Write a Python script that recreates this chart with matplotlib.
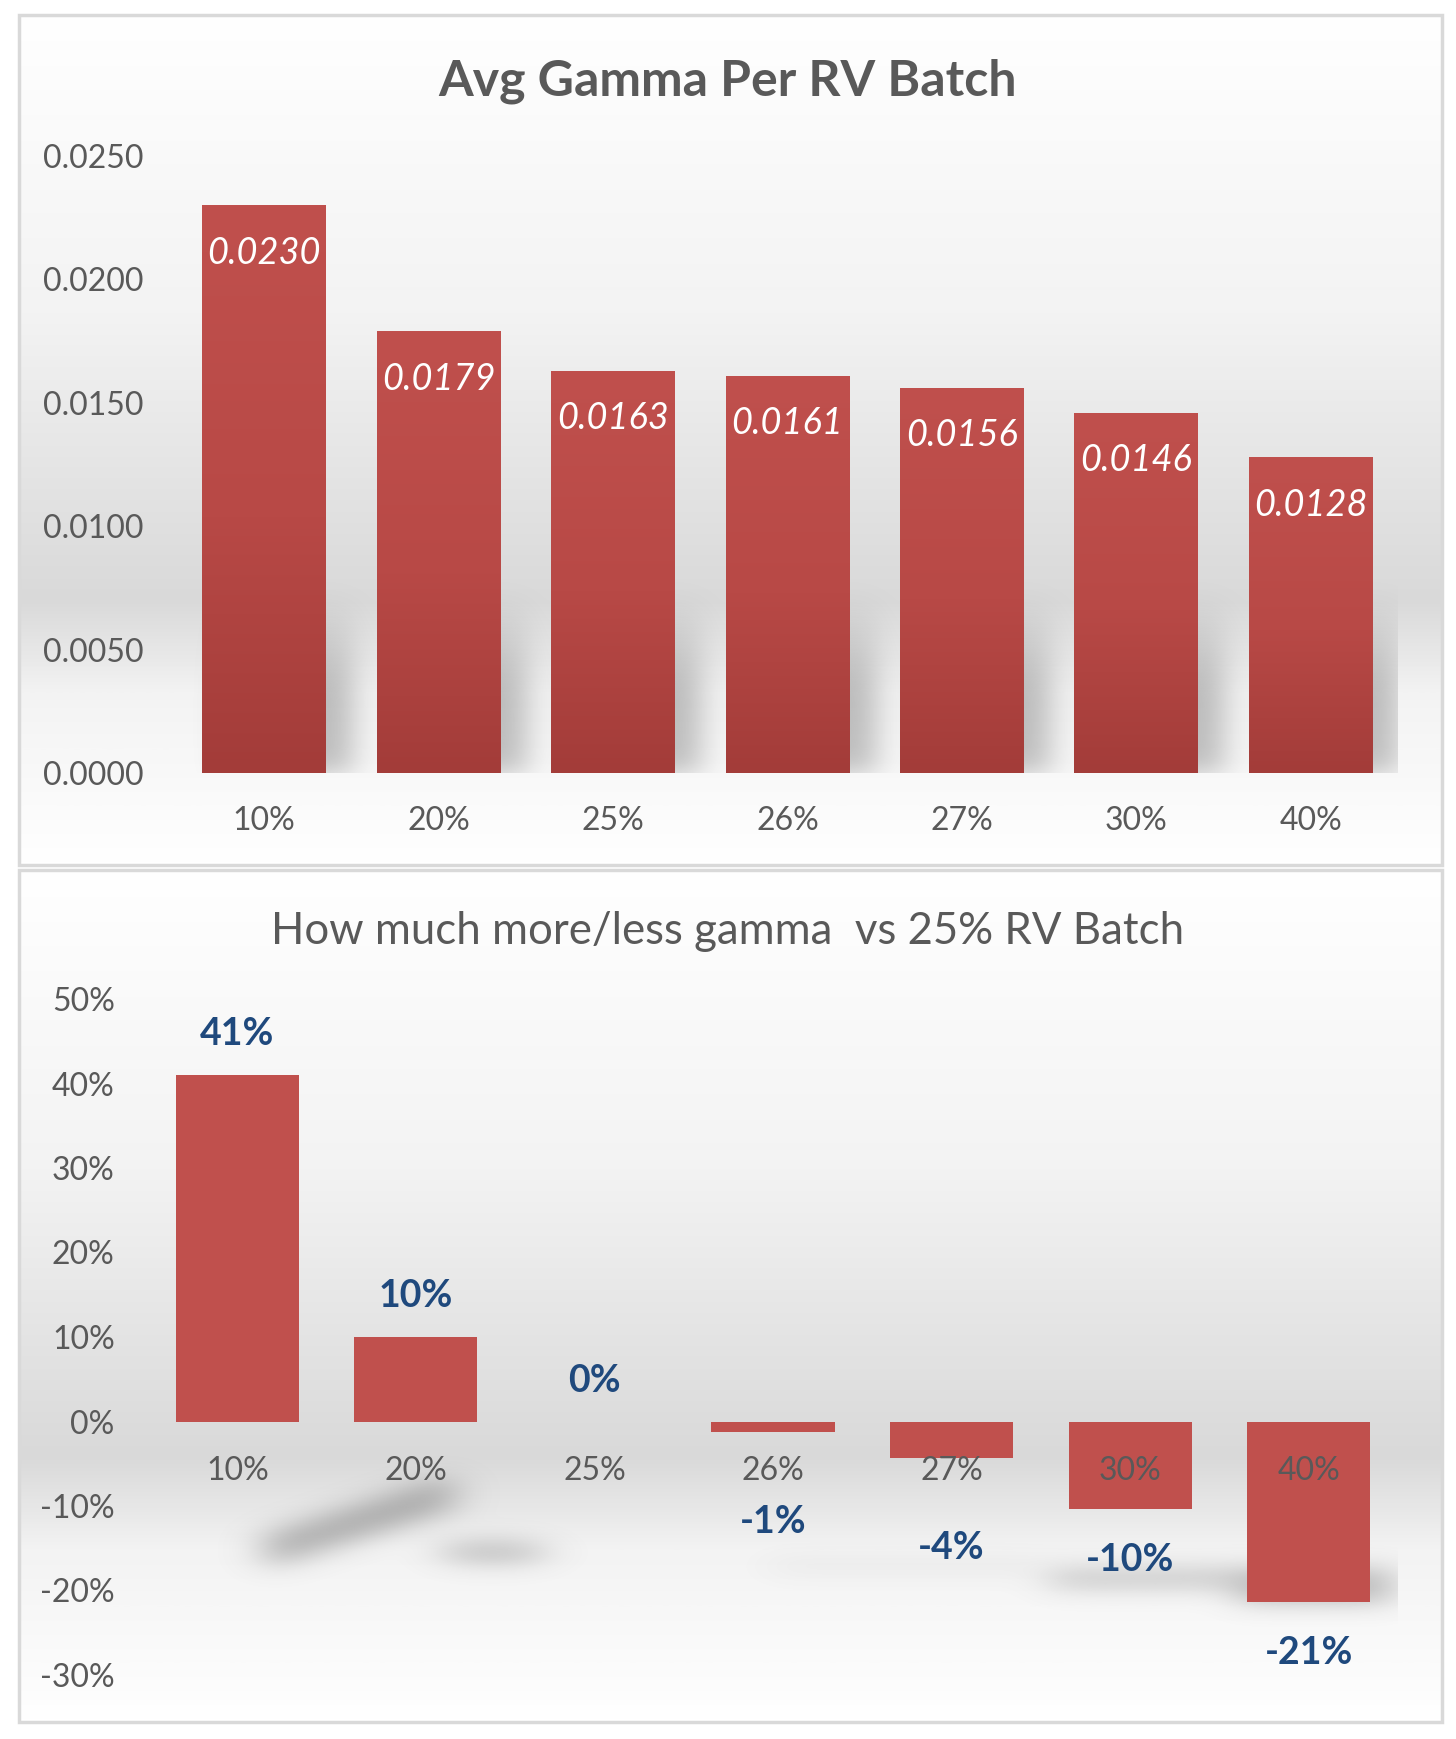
import numpy as np
import matplotlib
matplotlib.use("Agg")
import matplotlib.pyplot as plt
from matplotlib.colors import LinearSegmentedColormap, to_rgb
from matplotlib.patches import Rectangle
from matplotlib.ticker import FormatStrFormatter, PercentFormatter

plt.rcParams['font.family'] = ['Lato', 'DejaVu Sans']
plt.rcParams['axes.unicode_minus'] = False

# data
batches = ["10%", "20%", "25%", "26%", "27%", "30%", "40%"]
avg_gamma = [0.0230, 0.0179, 0.0163, 0.0161, 0.0156, 0.0146, 0.0128]
vs_25 = [0.41, 0.10, 0.0, -0.012, -0.043, -0.104, -0.214]
gamma_ticks = [0.0, 0.005, 0.010, 0.015, 0.020, 0.025]
pct_ticks = [-0.3, -0.2, -0.1, 0.0, 0.1, 0.2, 0.3, 0.4, 0.5]

GREY = "#595959"
RED = "#C0504D"
RED_DARK = "#A33C39"
BLUE = "#1F497D"
SHADOW = "#6E6E6E"

W, H = 1456, 1739
fig = plt.figure(figsize=(W / 100, H / 100), dpi=100)
PT = 0.72  # points per pixel at dpi 100


def px_rect(x0, y0, x1, y1):
    # pixel box with top-left origin -> [left, bottom, width, height]
    return [x0 / W, 1 - y1 / H, (x1 - x0) / W, (y1 - y0) / H]


def blur(a, sx, sy):
    for axis, s in ((1, sx), (0, sy)):
        r = int(3 * s) + 1
        k = np.exp(-0.5 * (np.arange(-r, r + 1) / s) ** 2)
        k /= k.sum()
        a = np.apply_along_axis(lambda v: np.convolve(v, k, mode='same'), axis, a)
    return a


def panel(box):
    bg = fig.add_axes(px_rect(*box), zorder=0)
    cmap = LinearSegmentedColormap.from_list(
        "chrome", [(0, "#FFFFFF"), (0.35, "#F3F3F3"), (0.69, "#D9D9D9"),
                   (0.80, "#F3F3F3"), (1, "#FFFFFF")])
    bg.imshow(np.linspace(0, 1, 500)[:, None], cmap=cmap, aspect='auto',
              extent=(0, 1, 0, 1), interpolation='bilinear')
    bg.set_axis_off()
    bg.add_patch(Rectangle((0, 0), 1, 1, transform=bg.transAxes, fill=False,
                           ec="#D9D9D9", lw=2.5, clip_on=False))


def shadow_image(ax, inten, extent, sx, sy, alpha):
    inten = blur(inten, sx, sy)
    rgba = np.zeros(inten.shape + (4,))
    rgba[..., :3] = to_rgb(SHADOW)
    rgba[..., 3] = np.clip(inten, 0, 1) * alpha
    ax.imshow(rgba, extent=extent, origin='lower', aspect='auto', zorder=1,
              interpolation='bilinear')


def style_axes(ax):
    ax.set_facecolor('none')
    for s in ax.spines.values():
        s.set_color('none')
    ax.tick_params(length=0, labelsize=23, labelcolor=GREY)


x = np.arange(len(batches))

# ---------------- top chart ----------------
panel((19, 15, 1442, 865))
ax1 = fig.add_axes(px_rect(177, 156, 1398, 773), zorder=1)
style_axes(ax1)
w1 = 0.71
bars = ax1.bar(x, avg_gamma, width=w1, color=RED, zorder=2)

# vertical gradient on each bar
bar_cmap = LinearSegmentedColormap.from_list("bar", [(0, RED_DARK), (0.45, "#B84946"), (1, RED)])
for b in bars:
    im = ax1.imshow(np.linspace(0, 1, 200)[:, None], cmap=bar_cmap, origin='lower',
                    extent=(b.get_x(), b.get_x() + b.get_width(), 0, b.get_height()),
                    aspect='auto', zorder=2.1)
    im.set_clip_path(b)

# soft shadow cast behind the lower part of the bars
gx = np.linspace(-0.5, 6.5, 800)
gy = np.linspace(0, 0.025, 400)
X, Y = np.meshgrid(gx, gy)
inten = np.zeros_like(X)
for xi, h in zip(x, avg_gamma):
    m = (X > xi - w1 / 2 + 0.15) & (X < xi + w1 / 2 + 0.15) & (Y < h)
    fade = np.clip((0.0072 - Y) / (0.0072 - 0.0035), 0, 1)
    inten = np.maximum(inten, m * fade)
shadow_image(ax1, inten, (-0.5, 6.5, 0, 0.025), 10, 8, 0.42)

for b, v in zip(bars, avg_gamma):
    ax1.annotate(f"{v:.4f}", (b.get_x() + b.get_width() / 2, v),
                 xytext=(0, -48 * PT), textcoords='offset points',
                 ha='center', va='center', color='white', fontsize=26,
                 fontstyle='italic', zorder=4)

ax1.set_xlim(-0.5, 6.5)
ax1.set_ylim(0, 0.025)
ax1.set_yticks(gamma_ticks)
ax1.yaxis.set_major_formatter(FormatStrFormatter('%.4f'))
ax1.set_xticks(x, batches)
ax1.tick_params(axis='y', pad=24)
ax1.tick_params(axis='x', pad=24)
fig.text(0.5, 1 - 96 / H, "Avg Gamma Per RV Batch", ha='center', va='baseline',
         fontsize=36, fontweight='bold', color=GREY)

# ---------------- bottom chart ----------------
panel((19, 870, 1442, 1722))
ax2 = fig.add_axes(px_rect(148, 999, 1398, 1675), zorder=1)
style_axes(ax2)
w2 = 0.69
bars2 = ax2.bar(x, vs_25, width=w2, color=RED, zorder=2)

# shadows below the zero line
gx = np.linspace(-0.5, 6.5, 800)
gy = np.linspace(-0.3, 0.5, 700)
X, Y = np.meshgrid(gx, gy)
inten = np.zeros_like(X)
yc = -0.158 + (X - 0.1) * (0.078 / 1.15)
inten = np.maximum(inten, ((np.abs(Y - yc) < 0.02) & (X > 0.15) & (X < 1.2)) * 0.85)
inten = np.maximum(inten, ((((X - 1.43) / 0.32) ** 2 + ((Y + 0.155) / 0.012) ** 2) < 1) * 0.7)
inten = np.maximum(inten, ((X > 3.0) & (X < 4.5) & (Y > -0.178) & (Y < -0.165)) * 0.18)
inten = np.maximum(inten, ((X > 4.55) & (X < 5.6) & (Y > -0.198) & (Y < -0.175)) * 0.55)
inten = np.maximum(inten, ((X > 5.6) & (X < 6.47) & (Y > -0.215) & (Y < -0.175)) * 0.75)
shadow_image(ax2, inten, (-0.5, 6.5, -0.3, 0.5), 13, 11, 0.6)

for b, v in zip(bars2, vs_25):
    if v >= 0:
        off = 41
    elif v < -0.07:
        off = -51
    else:
        off = -90
    ax2.annotate(f"{v:.0%}", (b.get_x() + b.get_width() / 2, v),
                 xytext=(0, off * PT), textcoords='offset points',
                 ha='center', va='center', color=BLUE, fontsize=27,
                 fontweight='bold', zorder=4)

ax2.set_xlim(-0.5, 6.5)
ax2.set_ylim(-0.3, 0.5)
ax2.set_yticks(pct_ticks)
ax2.yaxis.set_major_formatter(PercentFormatter(1.0, decimals=0))
ax2.spines['bottom'].set_position(('data', 0))
ax2.set_xticks(x, batches)
ax2.xaxis.set_zorder(3)
ax2.tick_params(axis='y', pad=24)
ax2.tick_params(axis='x', pad=25)
fig.text(0.5, 1 - 944 / H, "How much more/less gamma  vs 25% RV Batch", ha='center',
         va='baseline', fontsize=31.5, color=GREY)

fig.savefig("out.png", dpi=100)
